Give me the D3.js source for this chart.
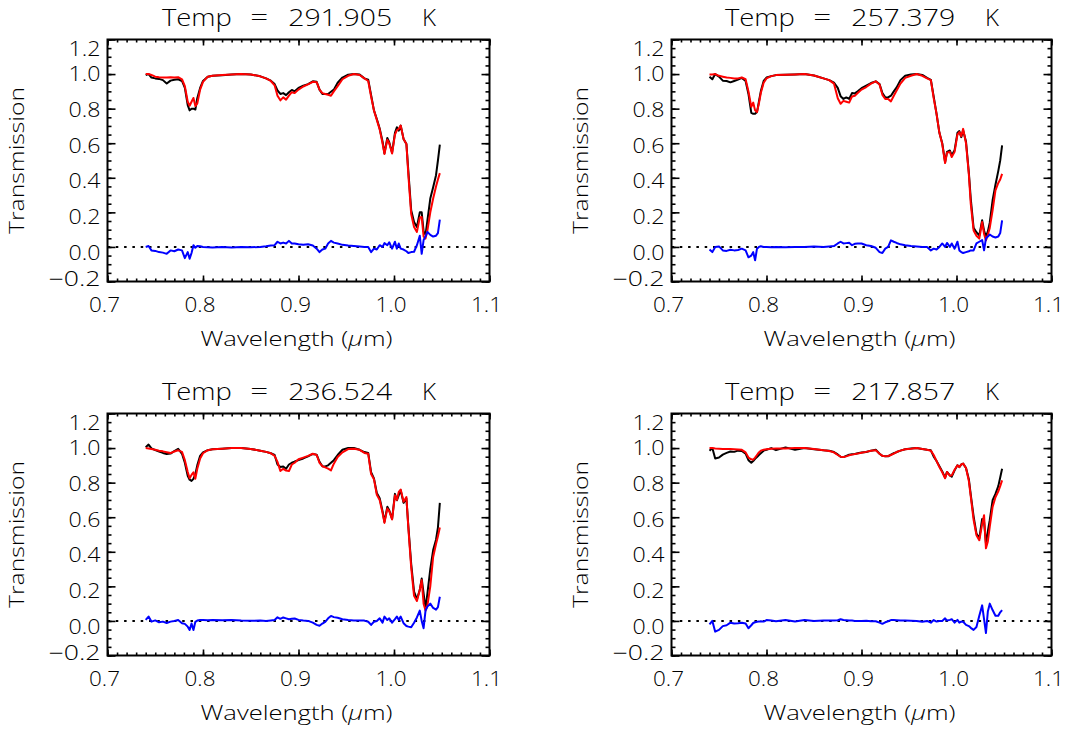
<!DOCTYPE html>
<html>
<head>
<meta charset="utf-8">
<script src="https://cdn.jsdelivr.net/npm/d3@7"></script>
<style>
html,body{margin:0;padding:0;background:#fff;}
svg{display:block;}
text{font-family:"Open Sans","Liberation Sans",sans-serif;font-weight:300;fill:#000;}
</style>
</head>
<body>
<svg id="chart" width="1073" height="731"></svg>
<script>
// ---------------- DATA ----------------
const wavelength = [
0.740,0.743,0.746,0.750,0.754,0.758,0.762,0.766,0.770,0.774,
0.778,0.781,0.784,0.786,0.788,0.790,0.792,0.794,0.797,0.800,
0.805,0.810,0.820,0.830,0.840,0.850,0.860,0.866,0.871,0.875,
0.878,0.881,0.884,0.887,0.890,0.893,0.896,0.900,0.905,0.910,
0.915,0.919,0.922,0.925,0.928,0.931,0.934,0.937,0.941,0.946,
0.952,0.958,0.964,0.969,0.973,0.976,0.979,0.982,0.985,0.988,
0.990,0.993,0.995,0.998,1.001,1.003,1.005,1.007,1.010,1.013,
1.015,1.018,1.021,1.024,1.027,1.029,1.031,1.033,1.035,1.038,
1.041,1.044,1.046,1.048];

const temperatures = ["291.905","257.379","236.524","217.857"];

// Panel 1: 291.905 K
const obs291 = [0.995,1.0,0.98,0.975,0.972,0.965,0.945,0.962,0.967,0.97,
0.96,0.92,0.82,0.79,0.80,0.80,0.795,0.86,0.92,0.96,
0.985,0.99,0.993,0.998,1.0,0.998,0.987,0.975,0.962,0.942,
0.905,0.885,0.89,0.878,0.895,0.908,0.9,0.92,0.933,0.942,
0.958,0.955,0.91,0.885,0.885,0.885,0.898,0.91,0.95,0.98,
0.996,1.0,0.998,0.975,0.968,0.88,0.79,0.74,0.685,0.61,
0.542,0.63,0.606,0.545,0.66,0.692,0.673,0.702,0.625,0.596,
0.44,0.212,0.144,0.115,0.2,0.2,0.09,0.07,0.154,0.28,
0.345,0.415,0.5,0.592];
const mod291 = [1.0,1.0,0.995,0.985,0.982,0.98,0.98,0.982,0.98,0.982,
0.97,0.93,0.84,0.817,0.84,0.862,0.815,0.83,0.91,0.955,
0.985,0.99,0.995,0.998,1.0,0.998,0.987,0.975,0.96,0.935,
0.875,0.848,0.865,0.852,0.875,0.895,0.89,0.91,0.928,0.94,
0.955,0.953,0.91,0.89,0.885,0.88,0.875,0.9,0.93,0.97,
0.99,1.0,0.995,0.975,0.96,0.87,0.79,0.735,0.68,0.6,
0.538,0.62,0.6,0.54,0.65,0.675,0.683,0.702,0.625,0.596,
0.42,0.19,0.115,0.087,0.17,0.173,0.06,0.048,0.096,0.2,
0.28,0.35,0.39,0.427];
const res291 = [0.0,0.005,-0.02,-0.023,-0.03,-0.033,-0.04,-0.02,-0.025,-0.015,
-0.02,-0.065,-0.03,-0.068,-0.035,0.01,-0.005,0.005,0.004,0.0,
-0.002,-0.004,0.0,-0.003,0.0,-0.002,0.0,0.004,0.008,0.01,
0.03,0.02,0.025,0.02,0.035,0.02,0.02,0.015,0.012,0.015,
0.008,-0.01,-0.03,-0.015,-0.01,0.02,0.035,0.025,0.02,0.012,
0.008,0.005,0.002,0.0,0.0,-0.03,-0.01,-0.015,0.01,0.0,
0.022,0.01,0.027,-0.01,0.03,-0.01,0.02,-0.01,-0.015,-0.025,
-0.035,-0.03,-0.028,0.01,0.065,-0.04,0.04,0.06,0.087,0.07,
0.06,0.065,0.08,0.158];

// Panel 2: 257.379 K
const obs257 = [0.985,0.97,1.0,0.985,0.962,0.96,0.952,0.96,0.968,0.978,
0.96,0.885,0.775,0.77,0.77,0.78,0.84,0.9,0.96,0.98,
0.988,0.994,0.996,0.998,1.0,0.992,0.975,0.965,0.95,0.92,
0.872,0.856,0.865,0.856,0.89,0.888,0.9,0.918,0.933,0.948,
0.958,0.942,0.89,0.865,0.865,0.875,0.9,0.923,0.965,0.99,
0.998,1.0,0.995,0.978,0.967,0.87,0.77,0.66,0.6,0.49,
0.55,0.558,0.53,0.56,0.66,0.67,0.635,0.673,0.61,0.43,
0.28,0.11,0.085,0.067,0.154,0.095,0.058,0.09,0.14,0.27,
0.36,0.44,0.5,0.587];
const mod257 = [0.998,0.998,1.0,0.99,0.985,0.98,0.978,0.975,0.975,0.98,
0.97,0.9,0.81,0.835,0.79,0.78,0.83,0.89,0.95,0.975,
0.988,0.994,0.996,0.998,1.0,0.992,0.975,0.965,0.945,0.86,
0.828,0.845,0.84,0.835,0.87,0.875,0.89,0.91,0.925,0.945,
0.958,0.94,0.88,0.856,0.856,0.842,0.875,0.905,0.945,0.978,
0.99,1.0,0.99,0.975,0.965,0.86,0.77,0.66,0.595,0.485,
0.545,0.55,0.52,0.55,0.65,0.665,0.64,0.683,0.6,0.42,
0.25,0.095,0.065,0.048,0.144,0.075,0.038,0.07,0.11,0.212,
0.327,0.37,0.39,0.423];
const res257 = [-0.015,-0.03,0.0,0.003,-0.02,-0.023,-0.016,-0.02,-0.018,-0.01,
-0.02,-0.06,-0.05,-0.03,-0.077,-0.01,0.0,0.004,0.0,0.0,
-0.002,0.0,-0.002,0.0,0.0,0.002,0.0,0.003,0.005,0.02,
0.03,0.02,0.022,0.024,0.01,0.018,0.02,0.02,0.01,0.005,
-0.005,-0.03,-0.035,-0.01,0.0,0.038,0.03,0.023,0.015,0.01,
0.005,0.003,0.0,0.0,-0.02,-0.01,-0.015,0.0,0.02,0.0,
0.023,0.0,0.02,-0.01,0.03,-0.02,-0.03,-0.035,-0.03,-0.025,
-0.02,-0.02,0.02,0.03,0.04,-0.02,0.05,0.06,0.072,0.06,
0.055,0.06,0.08,0.154];

// Panel 3: 236.524 K
const obs236 = [1.005,1.02,0.998,0.988,0.98,0.972,0.966,0.968,0.983,0.996,
0.967,0.915,0.84,0.817,0.81,0.822,0.85,0.9,0.955,0.975,
0.988,0.993,0.996,1.0,1.0,0.995,0.985,0.978,0.97,0.96,
0.905,0.89,0.893,0.88,0.905,0.915,0.922,0.93,0.94,0.952,
0.966,0.962,0.92,0.895,0.894,0.9,0.915,0.93,0.96,0.99,
1.0,1.0,0.99,0.977,0.972,0.86,0.825,0.74,0.71,0.635,
0.573,0.66,0.64,0.59,0.735,0.698,0.727,0.756,0.683,0.708,
0.55,0.33,0.17,0.125,0.18,0.245,0.16,0.07,0.16,0.3,
0.41,0.47,0.54,0.683];
const mod236 = [1.0,0.998,0.995,0.99,0.985,0.981,0.976,0.971,0.98,0.987,
0.978,0.93,0.862,0.825,0.845,0.86,0.823,0.88,0.94,0.97,
0.988,0.993,0.996,1.0,1.0,0.995,0.985,0.978,0.97,0.955,
0.92,0.867,0.88,0.87,0.867,0.905,0.915,0.935,0.945,0.955,
0.967,0.96,0.915,0.895,0.888,0.881,0.871,0.91,0.948,0.975,
0.994,0.996,0.99,0.972,0.967,0.85,0.82,0.73,0.7,0.625,
0.567,0.65,0.635,0.587,0.727,0.7,0.746,0.76,0.69,0.717,
0.54,0.31,0.145,0.115,0.179,0.236,0.1,0.06,0.09,0.2,
0.37,0.445,0.49,0.54];
const res236 = [0.006,0.025,-0.004,0.003,-0.008,-0.004,-0.012,-0.004,0.0,0.005,
-0.013,-0.017,-0.033,-0.052,-0.015,-0.052,-0.005,0.002,0.005,0.005,
0.004,0.006,0.004,0.005,0.002,0.001,0.002,0.0,0.003,0.005,
0.021,0.012,0.02,0.015,0.01,0.013,0.014,0.006,0.002,0.0,
-0.01,-0.023,-0.028,-0.015,-0.005,0.015,0.029,0.022,0.018,0.01,
0.006,0.003,0.002,0.002,-0.005,-0.023,-0.005,0.0,0.015,-0.01,
0.025,0.005,0.015,-0.01,0.01,0.025,0.005,0.025,-0.013,-0.029,
-0.033,-0.037,-0.01,0.02,0.06,0.0,-0.042,0.06,0.083,0.1,
0.075,0.065,0.08,0.14];

// Panel 4: 217.857 K
const obs217 = [0.985,1.0,0.94,0.945,0.962,0.972,0.98,0.978,0.985,0.983,
0.968,0.93,0.915,0.925,0.938,0.948,0.96,0.97,0.985,0.99,
1.0,0.988,1.004,0.99,1.0,0.993,0.987,0.985,0.977,0.963,
0.95,0.948,0.955,0.962,0.964,0.966,0.97,0.974,0.977,0.985,
0.99,0.967,0.955,0.952,0.952,0.962,0.97,0.977,0.985,0.993,
0.997,1.0,0.995,0.99,0.987,0.95,0.925,0.895,0.865,0.829,
0.862,0.842,0.835,0.871,0.9,0.89,0.905,0.91,0.885,0.82,
0.73,0.605,0.506,0.477,0.59,0.575,0.448,0.52,0.583,0.698,
0.735,0.78,0.83,0.88];
const mod217 = [1.0,1.0,0.997,0.996,0.995,0.994,0.994,0.993,0.992,0.99,
0.975,0.945,0.935,0.933,0.945,0.96,0.975,0.985,0.99,0.993,
0.996,0.997,0.998,1.0,1.0,0.995,0.988,0.983,0.975,0.96,
0.95,0.948,0.952,0.958,0.962,0.965,0.968,0.973,0.978,0.985,
0.988,0.967,0.955,0.952,0.954,0.96,0.968,0.977,0.985,0.993,
0.996,1.0,0.995,0.99,0.985,0.96,0.925,0.89,0.86,0.825,
0.862,0.84,0.842,0.875,0.9,0.89,0.905,0.91,0.885,0.81,
0.72,0.585,0.496,0.467,0.56,0.612,0.42,0.46,0.544,0.66,
0.715,0.75,0.78,0.813];
const res217 = [-0.02,0.0,-0.062,-0.052,-0.03,-0.025,-0.01,-0.015,-0.013,-0.01,
-0.015,-0.042,-0.025,-0.012,-0.008,-0.005,-0.004,-0.002,-0.004,0.005,
0.002,-0.002,0.005,-0.003,0.005,0.0,0.002,0.002,0.002,0.004,
0.01,0.005,0.004,0.003,0.002,0.0,0.0,0.0,0.001,-0.002,
-0.002,-0.01,-0.017,-0.008,-0.002,0.005,0.005,0.004,0.003,0.002,
0.001,0.0,-0.005,0.0,-0.01,0.005,-0.004,0.0,0.0,0.015,
0.002,0.006,0.01,-0.01,0.006,-0.01,-0.004,-0.005,-0.023,-0.03,
-0.04,-0.052,-0.035,0.03,0.09,0.01,-0.07,0.055,0.1,0.063,
0.03,0.03,0.05,0.063];

// Axis ticks & labels
const xTicks = [0.7,0.8,0.9,1.0,1.1];
const xTickLabels = ["0.7","0.8","0.9","1.0","1.1"];
const yTicks = [-0.2,0.0,0.2,0.4,0.6,0.8,1.0,1.2];
const yTickLabels = ["\u22120.2","0.0","0.2","0.4","0.6","0.8","1.0","1.2"];

// ---------------- LAYOUT ----------------
const panelData = [
  {temp: temperatures[0], obs: obs291, mod: mod291, res: res291},
  {temp: temperatures[1], obs: obs257, mod: mod257, res: res257},
  {temp: temperatures[2], obs: obs236, mod: mod236, res: res236},
  {temp: temperatures[3], obs: obs217, mod: mod217, res: res217}
];
const boxes = [
  {x:107.5, y:39.5,  w:382, h:242},
  {x:671.5, y:39.5,  w:380, h:242},
  {x:107.5, y:413.5, w:382, h:242},
  {x:671.5, y:413.5, w:380, h:242}
];

const svg = d3.select("#chart");
svg.append("rect").attr("width",1073).attr("height",731).attr("fill","#fff");

const xMinor = d3.range(0, 41).map(i => 0.7 + i*0.01);
const yMinor = d3.range(0, 29).map(i => -0.2 + i*0.05);

// Stretch a text horizontally to a given width around its anchor point
function fitX(t, width, ax, ay, sy) {
  const n = t.node().getComputedTextLength();
  const s = n > 0 ? width / n : 1;
  t.attr("transform", `translate(${ax},${ay}) scale(${s},${sy || 1}) translate(${-ax},${-ay})`);
}

panelData.forEach((p, i) => {
  const b = boxes[i];
  const x = d3.scaleLinear().domain([0.7, 1.1]).range([b.x, b.x + b.w]);
  const y = d3.scaleLinear().domain([-0.2, 1.2]).range([b.y + b.h, b.y]);
  const g = svg.append("g");

  const strip = sel => { sel.select(".domain").remove(); sel.selectAll(".tick line").attr("stroke","#000").attr("stroke-width",1.6); };
  g.append("g").attr("transform",`translate(0,${b.y+b.h})`).call(d3.axisBottom(x).tickValues(xMinor).tickSize(-3).tickFormat("")).call(strip);
  g.append("g").attr("transform",`translate(0,${b.y+b.h})`).call(d3.axisBottom(x).tickValues(xTicks).tickSize(-6).tickFormat("")).call(strip);
  g.append("g").attr("transform",`translate(0,${b.y})`).call(d3.axisTop(x).tickValues(xMinor).tickSize(-3).tickFormat("")).call(strip);
  g.append("g").attr("transform",`translate(0,${b.y})`).call(d3.axisTop(x).tickValues(xTicks).tickSize(-6).tickFormat("")).call(strip);
  g.append("g").attr("transform",`translate(${b.x},0)`).call(d3.axisLeft(y).tickValues(yMinor).tickSize(-4).tickFormat("")).call(strip);
  g.append("g").attr("transform",`translate(${b.x},0)`).call(d3.axisLeft(y).tickValues(yTicks).tickSize(-8).tickFormat("")).call(strip);
  g.append("g").attr("transform",`translate(${b.x+b.w},0)`).call(d3.axisRight(y).tickValues(yMinor).tickSize(-4).tickFormat("")).call(strip);
  g.append("g").attr("transform",`translate(${b.x+b.w},0)`).call(d3.axisRight(y).tickValues(yTicks).tickSize(-8).tickFormat("")).call(strip);

  g.append("rect").attr("x",b.x).attr("y",b.y).attr("width",b.w).attr("height",b.h)
    .attr("fill","none").attr("stroke","#000").attr("stroke-width",2);

  g.append("line").attr("x1",b.x).attr("x2",b.x+b.w).attr("y1",y(0)).attr("y2",y(0))
    .attr("stroke","#000").attr("stroke-width",2).attr("stroke-dasharray","2.5,5.8");

  const line = arr => d3.line().x((d,k) => x(wavelength[k])).y(d => y(d))(arr);
  g.append("path").attr("d",line(p.obs)).attr("fill","none").attr("stroke","#000").attr("stroke-width",2).attr("stroke-linejoin","round");
  g.append("path").attr("d",line(p.mod)).attr("fill","none").attr("stroke","#ff0000").attr("stroke-width",2).attr("stroke-linejoin","round");
  g.append("path").attr("d",line(p.res)).attr("fill","none").attr("stroke","#0000ff").attr("stroke-width",2).attr("stroke-linejoin","round");

  xTicks.forEach((v,k) => {
    const tx = x(v) - 3, ty = b.y + b.h + 24;
    const t = g.append("text").attr("x", tx).attr("y", ty).attr("dy","0.35em")
      .attr("text-anchor","middle").attr("font-size",20)
      .text(xTickLabels[k]);
    fitX(t, 31, tx, ty);
  });
  yTicks.forEach((v,k) => {
    let cy;
    if (k === yTicks.length-1) cy = b.y + 9.8;
    else if (k === 0) cy = b.y + b.h - 3;
    else cy = y(v) + (1 - v) * 5.5;
    const lbl = yTickLabels[k];
    const tx = b.x - 7;
    const t = g.append("text").attr("x", tx).attr("y", cy).attr("dy","0.36em")
      .attr("text-anchor","end").attr("font-size",18)
      .text(lbl);
    fitX(t, lbl.length > 3 ? 52 : 32, tx, cy, 1.1);
  });
  const xtx = b.x + b.w/2 - 2, xty = b.y + b.h + 57;
  const xt = g.append("text").attr("x", xtx).attr("y", xty).attr("dy","0.35em")
    .attr("text-anchor","middle").attr("font-size",21);
  xt.append("tspan").text("Wavelength (");
  xt.append("tspan").attr("font-style","italic").text("\u03bc");
  xt.append("tspan").text("m)");
  fitX(xt, 192, xtx, xty);

  const yt = g.append("text").attr("x",0).attr("y",0)
    .attr("dy","0.35em").attr("text-anchor","middle").attr("font-size",21)
    .text("Transmission");
  const ysc = 147 / yt.node().getComputedTextLength();
  yt.attr("transform",`translate(${b.x - 90.5},${b.y + b.h/2}) rotate(-90) scale(${ysc},1)`);

  // Title: word pieces spaced as in the original
  const cx = b.x + b.w/2, ty = b.y - 13.3;
  const pieces = [
    {dx:-136.6, w:70, s:"Temp"},
    {dx:-48.3,  w:18, s:"="},
    {dx:-10.3,  w:104, s:p.temp},
    {dx:123.4,  w:14, s:"K"}
  ];
  pieces.forEach(pc => {
    const t = g.append("text").attr("x", cx + pc.dx).attr("y", ty).attr("font-size",24.5).text(pc.s);
    fitX(t, pc.w, cx + pc.dx, ty);
  });
});
</script>
</body>
</html>
